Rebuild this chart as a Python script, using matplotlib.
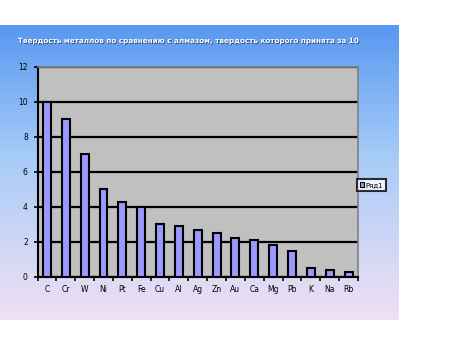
import numpy as np
import matplotlib
matplotlib.use("Agg")
import matplotlib.pyplot as plt
import matplotlib.patheffects as pe
from matplotlib.colors import LinearSegmentedColormap

# данные
metals = ["C", "Cr", "W", "Ni", "Pt", "Fe", "Cu", "Al", "Ag", "Zn",
          "Au", "Ca", "Mg", "Pb", "K", "Na", "Rb"]
hardness = [10, 9, 7, 5, 4.3, 4, 3, 2.9, 2.7, 2.5,
            2.2, 2.1, 1.8, 1.5, 0.5, 0.4, 0.3]
title = "Твердость металлов по сравнению с алмазом, твердость которого принята за 10"
series_name = "Ряд1"
yticks = [0, 2, 4, 6, 8, 10, 12]

fig = plt.figure(figsize=(4.67, 3.6), dpi=100)
fig.patch.set_facecolor("white")

# фон с градиентом
bg = fig.add_axes([0, 40 / 360, 399 / 467, 295 / 360])
cmap = LinearSegmentedColormap.from_list(
    "bg", [(0.0, "#5898f0"), (0.45, "#a8ccf8"), (1.0, "#f0e0f4")])
grad = np.linspace(0, 1, 256).reshape(-1, 1)
bg.imshow(grad, aspect="auto", cmap=cmap, extent=[0, 1, 0, 1], origin="upper")
bg.set_axis_off()

ax = fig.add_axes([37.5 / 467, 83 / 360, 320.5 / 467, 210.5 / 360])
ax.set_facecolor("#c0c0c0")
x = np.arange(len(metals))
ax.set_axisbelow(True)
ax.yaxis.grid(True, color="black", linewidth=1.6)
ax.bar(x, hardness, width=0.42, color="#9999ff", edgecolor="black",
       linewidth=1.5, label=series_name, zorder=3)

ax.set_xlim(-0.5, len(metals) - 0.5)
ax.set_ylim(0, 12)
ax.set_yticks(yticks)
ax.set_yticklabels([str(v) for v in yticks], fontsize=5.5)
ax.set_xticks(x)
ax.set_xticklabels(metals, fontsize=5.5)
ax.set_xticks(np.arange(-0.5, len(metals)), minor=True)
ax.tick_params(axis="x", which="major", length=0, pad=6)
ax.tick_params(axis="x", which="minor", length=3, width=1.2, direction="out")
ax.tick_params(axis="y", length=3, width=1.2, direction="out", pad=4)
for s in ["left", "bottom"]:
    ax.spines[s].set_linewidth(1.5)
    ax.spines[s].set_color("black")
for s in ["top", "right"]:
    ax.spines[s].set_linewidth(1.2)
    ax.spines[s].set_color("#808080")

leg = fig.legend(loc="center left", bbox_to_anchor=(357 / 467, 1 - 185 / 360),
                 fontsize=5, frameon=True, fancybox=False, handlelength=0.6,
                 handleheight=0.6, handletextpad=0.2, borderpad=0.4,
                 borderaxespad=0)
leg.get_frame().set_edgecolor("black")
leg.get_frame().set_linewidth(1.5)
for h in leg.legend_handles:
    h.set_linewidth(0.8)

fig.text(18 / 467, 1 - 41 / 360, title, fontsize=5.2, fontweight="bold",
         color="white", va="center", ha="left",
         path_effects=[pe.withSimplePatchShadow(offset=(0.6, -0.6),
                                                shadow_rgbFace="#203060",
                                                alpha=0.8)])

fig.savefig("out.png", dpi=100)
